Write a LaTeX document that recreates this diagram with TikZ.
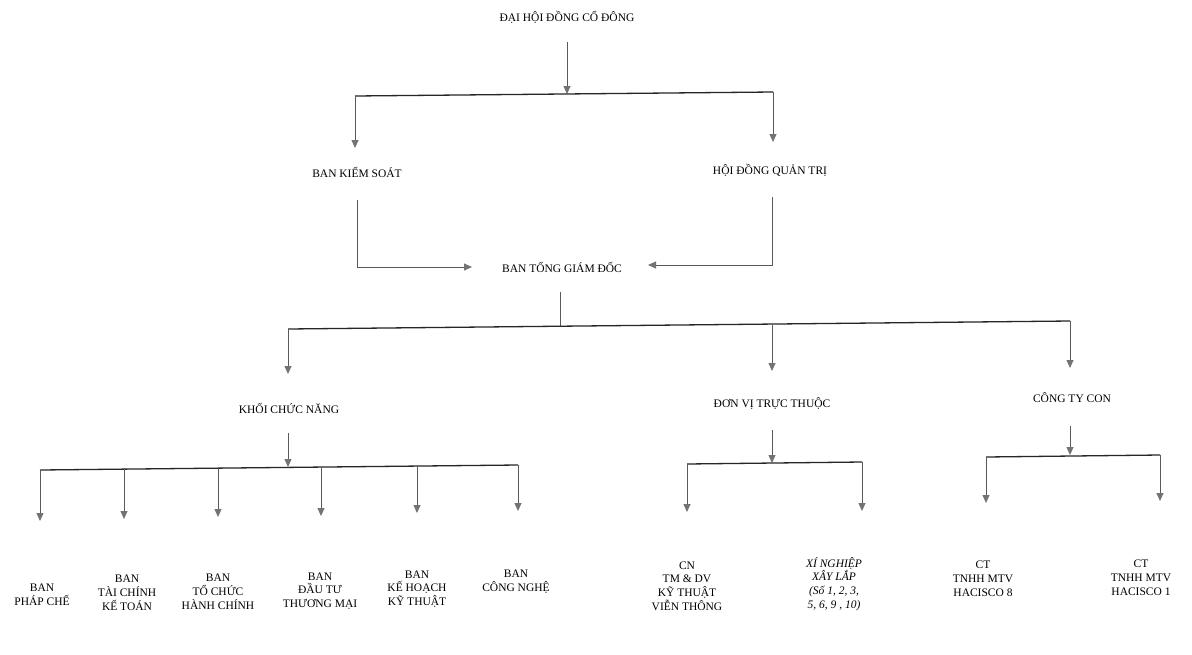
\documentclass[tikz,border=0pt]{standalone}
\usepackage{fontspec}
\setmainfont{Liberation Serif}
\usetikzlibrary{arrows.meta}
\begin{document}
\begin{tikzpicture}[x=1pt,y=-1pt,
  lbl/.style={font=\fontsize{11.5}{13.8}\selectfont, align=center, inner sep=1pt, text=black},
  ln/.style={draw=black!65, line width=0.8pt},
  barline/.style={draw=black!85, line width=1.3pt},
  arr/.style={ln, -{Triangle[length=8pt,width=7pt,color=black!55,fill=black!55]}},
]
\useasboundingbox[fill=white] (0,0) rectangle (1192,654);

% ---- nodes ----
\node[lbl] (dhd)  at (567,17)  {ĐẠI HỘI ĐỒNG CỔ ĐÔNG};
\node[lbl] (bks)  at (357,172) {BAN KIỂM SOÁT};
\node[lbl] (hdqt) at (770,170) {HỘI ĐỒNG QUẢN TRỊ};
\node[lbl] (tgd)  at (562,267) {BAN TỔNG GIÁM ĐỐC};
\node[lbl] (kcn)  at (289,408) {KHỐI CHỨC NĂNG};
\node[lbl] (dvtt) at (772,404) {ĐƠN VỊ TRỰC THUỘC};
\node[lbl] (ctc)  at (1072,398) {CÔNG TY CON};

\node[lbl] (pc)   at (42,595)  {BAN\\PHÁP CHẾ};
\node[lbl] (tckt) at (127,593) {BAN\\TÀI CHÍNH\\KẾ TOÁN};
\node[lbl] (tchc) at (218,592) {BAN\\TỔ CHỨC\\HÀNH CHÍNH};
\node[lbl] (dttm) at (320,591) {BAN\\ĐẦU TƯ\\THƯƠNG MẠI};
\node[lbl] (khkt) at (417,589) {BAN\\KẾ HOẠCH\\KỸ THUẬT};
\node[lbl] (bcn)  at (516,582) {BAN\\CÔNG NGHỆ};
\node[lbl] (cnvt) at (687,586) {CN\\TM \& DV\\KỸ THUẬT\\VIỄN THÔNG};
\node[lbl,font=\fontsize{11.5}{13.8}\selectfont\itshape] (xnxl) at (834,584) {XÍ NGHIỆP\\XÂY LẮP\\(Số 1, 2, 3,\\5, 6, 9 , 10)};
\node[lbl] (ht8)  at (983,579) {CT\\TNHH MTV\\HACISCO 8};
\node[lbl] (ht1)  at (1141,578) {CT\\TNHH MTV\\HACISCO 1};

% ---- junction coordinates ----
\coordinate (a0) at (567,42);   \coordinate (a1) at (567,94);
\coordinate (aL) at (355,96);   \coordinate (aR) at (773,92);
\coordinate (aLt) at (355,148); \coordinate (aRt) at (773,142);

\coordinate (b0) at (357,200);  \coordinate (b1) at (472,267);
\coordinate (c0) at (772,197);  \coordinate (c1) at (648,265);

\coordinate (d0) at (560,292);  \coordinate (d1) at (560,326);
\coordinate (dL) at (288,329);  \coordinate (dR) at (1070,321);
\coordinate (dM) at (772,325);
\coordinate (dLt) at (288,374); \coordinate (dMt) at (772,371); \coordinate (dRt) at (1070,368);

\coordinate (e0) at (288,433);  \coordinate (e1) at (288,467);
\coordinate (eL) at (40,470);   \coordinate (eR) at (518,465);

\coordinate (f0) at (772,430);  \coordinate (f1) at (772,463);
\coordinate (fL) at (687,464);  \coordinate (fR) at (862,462);

\coordinate (g0) at (1070,426); \coordinate (g1) at (1070,455);
\coordinate (gL) at (986,457);  \coordinate (gR) at (1160,455);

% ---- connectors ----
\draw[arr] (a0) -- (a1);
\draw[barline] (aL) -- (aR);
\draw[arr] (aL) -- (aLt);
\draw[arr] (aR) -- (aRt);

\draw[arr] (b0) |- (b1);
\draw[arr] (c0) |- (c1);

\draw[ln] (d0) -- (d1);
\draw[barline] (dL) -- (dR);
\draw[arr] (dL) -- (dLt);
\draw[arr] (dM) -- (dMt);
\draw[arr] (dR) -- (dRt);

\draw[arr] (e0) -- (e1);
\draw[barline] (eL) -- (eR);
\draw[arr] (40,470) -- (40,521);
\draw[arr] (124,469.2) -- (124,519);
\draw[arr] (218,468.2) -- (218,517);
\draw[arr] (321,467.1) -- (321,516);
\draw[arr] (417,466.1) -- (417,513);
\draw[arr] (eR) -- (518,511);

\draw[arr] (f0) -- (f1);
\draw[barline] (fL) -- (fR);
\draw[arr] (fL) -- (687,512);
\draw[arr] (fR) -- (862,511);

\draw[arr] (g0) -- (g1);
\draw[barline] (gL) -- (gR);
\draw[arr] (gL) -- (986,503);
\draw[arr] (gR) -- (1160,501);
\end{tikzpicture}
\end{document}
